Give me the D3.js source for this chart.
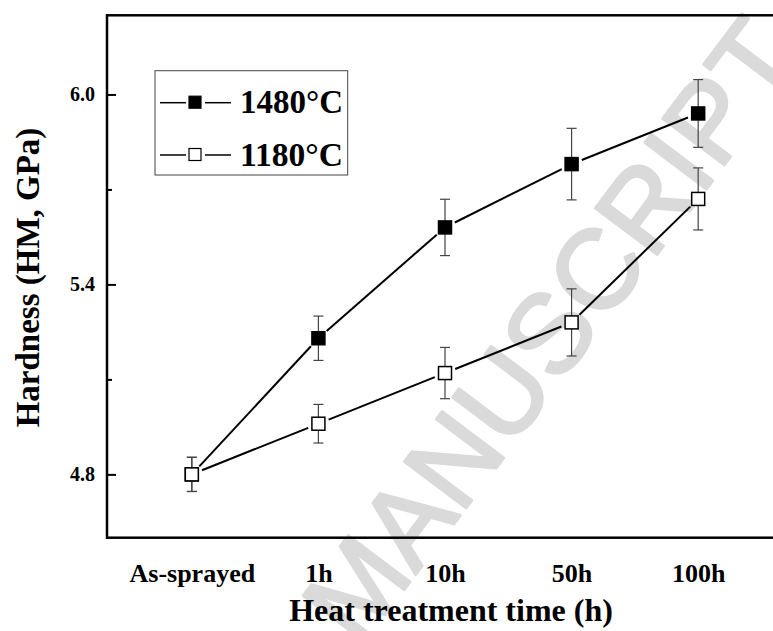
<!DOCTYPE html>
<html>
<head>
<meta charset="utf-8">
<script src="https://cdn.jsdelivr.net/npm/d3@7"></script>
<style>
  body { margin: 0; background: #fff; }
  svg { display: block; }
  .tick text { font-family: "Liberation Serif", "Times New Roman", serif; font-weight: bold; }
</style>
</head>
<body>
<svg id="chart"></svg>
<script>
// data
const categories = ["As-sprayed", "1h", "10h", "50h", "100h"];
const hard1480 = [4.80, 5.23, 5.58, 5.78, 5.94];
const err1480 = [0.054, 0.070, 0.089, 0.113, 0.107];
const hard1180 = [4.80, 4.96, 5.12, 5.28, 5.67];
const err1180 = [0.054, 0.061, 0.081, 0.106, 0.098];
const yMajorTicks = [4.8, 5.4, 6.0];
const yMinorTicks = [5.1, 5.7];
const seriesNames = ["1480°C", "1180°C"];

const W = 773, H = 631;
const margin = { top: 15.3, left: 107 };
const plotRight = 783;       // right edge of frame sits past the canvas
const plotBottom = 537.7;

const svg = d3.select("#chart").attr("width", W).attr("height", H);

// watermark behind everything
svg.append("text")
  .attr("transform", "translate(805,58) rotate(-53)")
  .attr("text-anchor", "end")
  .attr("font-family", "'Liberation Sans', Arial, sans-serif")
  .attr("font-size", 112)
  .attr("fill", "#dadada")
  .attr("stroke", "#dadada")
  .attr("stroke-width", 3)
  .attr("stroke-linejoin", "round")
  .text("MANUSCRIPT");

const x = d3.scalePoint()
  .domain(categories)
  .range([margin.left, plotRight])
  .padding(0.67);

const y = d3.scaleLinear()
  .domain([4.6, 6.25])
  .range([plotBottom, margin.top]);

// frame (top, left, bottom visible)
svg.append("rect")
  .attr("x", margin.left)
  .attr("y", margin.top)
  .attr("width", plotRight - margin.left)
  .attr("height", plotBottom - margin.top)
  .attr("fill", "none")
  .attr("stroke", "#000")
  .attr("stroke-width", 2.5);

// y axis, inward ticks
const yAxisG = svg.append("g")
  .attr("transform", `translate(${margin.left},0)`)
  .call(d3.axisLeft(y).tickValues(yMajorTicks).tickSize(-9).tickPadding(12).tickFormat(d3.format(".1f")));
yAxisG.select(".domain").remove();
yAxisG.selectAll(".tick line").attr("stroke-width", 2);
yAxisG.selectAll(".tick text").attr("font-size", 20).attr("fill", "#000");

const yMinorG = svg.append("g")
  .attr("transform", `translate(${margin.left},0)`)
  .call(d3.axisLeft(y).tickValues(yMinorTicks).tickSize(-5).tickFormat(""));
yMinorG.select(".domain").remove();
yMinorG.selectAll(".tick line").attr("stroke-width", 2);

// x axis labels only
const xAxisG = svg.append("g")
  .attr("transform", `translate(0,${plotBottom})`)
  .call(d3.axisBottom(x).tickSize(0).tickPadding(26));
xAxisG.select(".domain").remove();
xAxisG.selectAll(".tick text").attr("font-size", 26).attr("fill", "#000");

// axis titles
svg.append("text")
  .attr("x", 451)
  .attr("y", 620.7)
  .attr("text-anchor", "middle")
  .attr("font-family", "'Liberation Serif', 'Times New Roman', serif")
  .attr("font-weight", "bold")
  .attr("font-size", 32)
  .text("Heat treatment time (h)");

svg.append("text")
  .attr("transform", "translate(38.5,277.5) rotate(-90)")
  .attr("text-anchor", "middle")
  .attr("font-family", "'Liberation Serif', 'Times New Roman', serif")
  .attr("font-weight", "bold")
  .attr("font-size", 33)
  .text("Hardness (HM, GPa)");

// draws one series: gapped line segments, error bars, square markers
function drawSeries(values, errs, filled) {
  const pts = values.map((v, i) => ({ cx: x(categories[i]), cy: y(v), v: v, e: errs[i] }));
  const gap = 11;
  const segs = d3.pairs(pts).map(([a, b]) => {
    const dx = b.cx - a.cx, dy = b.cy - a.cy, L = Math.hypot(dx, dy);
    return { x1: a.cx + gap * dx / L, y1: a.cy + gap * dy / L, x2: b.cx - gap * dx / L, y2: b.cy - gap * dy / L };
  });
  const g = svg.append("g");
  g.selectAll(".seg").data(segs).enter().append("line")
    .attr("x1", d => d.x1).attr("y1", d => d.y1)
    .attr("x2", d => d.x2).attr("y2", d => d.y2)
    .attr("stroke", "#000").attr("stroke-width", 2);

  const eb = g.selectAll(".err").data(pts).enter().append("g").attr("stroke", "#444").attr("stroke-width", 1.2);
  eb.append("line").attr("x1", d => d.cx).attr("x2", d => d.cx)
    .attr("y1", d => y(d.v + d.e)).attr("y2", d => y(d.v - d.e));
  eb.append("line").attr("x1", d => d.cx - 5).attr("x2", d => d.cx + 5)
    .attr("y1", d => y(d.v + d.e)).attr("y2", d => y(d.v + d.e));
  eb.append("line").attr("x1", d => d.cx - 5).attr("x2", d => d.cx + 5)
    .attr("y1", d => y(d.v - d.e)).attr("y2", d => y(d.v - d.e));

  g.selectAll(".mk").data(pts).enter().append("rect")
    .attr("x", d => d.cx - 6.5).attr("y", d => d.cy - 6.5)
    .attr("width", 13).attr("height", 13)
    .attr("fill", filled ? "#000" : "#fff")
    .attr("stroke", "#000").attr("stroke-width", 1.5);
}

drawSeries(hard1480, err1480, true);
drawSeries(hard1180, err1180, false);

// legend
const legend = svg.append("g");
legend.append("rect")
  .attr("x", 155).attr("y", 70.7).attr("width", 192.7).attr("height", 104.3)
  .attr("fill", "#fff").attr("stroke", "#444").attr("stroke-width", 1);

const rows = legend.selectAll(".row").data(seriesNames).enter().append("g")
  .attr("transform", (d, i) => `translate(0,${102.7 + i * 52.3})`);
rows.append("line").attr("x1", 160).attr("x2", 186).attr("stroke", "#000").attr("stroke-width", 1.5);
rows.append("line").attr("x1", 205).attr("x2", 231).attr("stroke", "#000").attr("stroke-width", 1.5);
rows.append("rect")
  .attr("x", 189).attr("y", -6.5).attr("width", 12).attr("height", 12)
  .attr("fill", (d, i) => i === 0 ? "#000" : "#fff")
  .attr("stroke", "#000").attr("stroke-width", 1.2);
rows.append("text")
  .attr("x", 240).attr("dy", "0.31em")
  .attr("font-family", "'Liberation Serif', 'Times New Roman', serif")
  .attr("font-weight", "bold")
  .attr("font-size", 34)
  .attr("textLength", 103)
  .attr("lengthAdjust", "spacingAndGlyphs")
  .text(d => d);
</script>
</body>
</html>
